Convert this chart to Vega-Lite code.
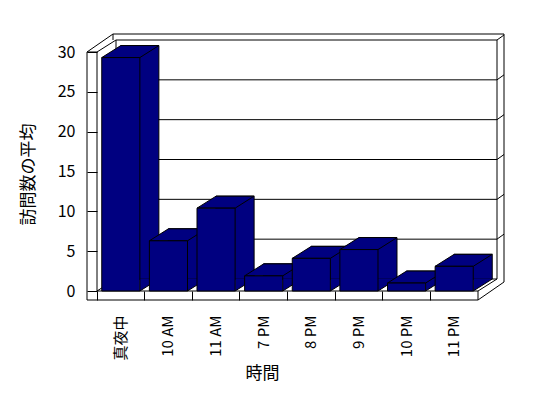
{
  "$schema": "https://vega.github.io/schema/vega-lite/v6.json",
  "width": 381,
  "height": 239,
  "autosize": "none",
  "padding": {"left": 97, "top": 52, "right": 70, "bottom": 107},
  "background": "white",
  "config": {"view": {"stroke": null},
    "axisY": {"domain": false, "grid": false, "tickSize": 10, "tickColor": "black",
              "labelPadding": 12, "labelFont": "Noto Sans CJK JP", "labelFontSize": 16, "labelColor": "black", "labelOverlap": false,
              "titleFont": "Noto Sans CJK JP", "titleFontSize": 17, "titleFontWeight": "normal", "titleColor": "black",
              "titleX": -69, "titleY": 122, "titleAngle": -90, "titleAlign": "center", "titleBaseline": "middle"}},
  "data": {"values": [
    {"t": "真夜中", "v": 29.3},
    {"t": "10 AM", "v": 6.3},
    {"t": "11 AM", "v": 10.4},
    {"t": "7 PM", "v": 1.9},
    {"t": "8 PM", "v": 4.1},
    {"t": "9 PM", "v": 5.2},
    {"t": "10 PM", "v": 1.0},
    {"t": "11 PM", "v": 3.1}
  ]},
  "layer": [
    {"data": {"values": [{}]},
     "mark": {"type": "rect", "fill": "white", "stroke": "black", "strokeWidth": 1, "xOffset": 19, "x2Offset": 19, "yOffset": -12, "y2Offset": -12},
     "encoding": {"x": {"value": 0}, "x2": {"value": "width"},
                  "y": {"datum": 30, "type": "quantitative", "scale": {"domain": [0, 30], "nice": false},
                        "axis": {"values": [0, 5, 10, 15, 20, 25, 30], "tickCount": 10, "title": "訪問数の平均", "labelOverlap": false}},
                  "y2": {"datum": 0}}},
    {"data": {"values": [{"g": 5}, {"g": 10}, {"g": 15}, {"g": 20}, {"g": 25}]},
     "mark": {"type": "rule", "stroke": "black", "strokeWidth": 1, "xOffset": 19, "x2Offset": 19, "yOffset": -12},
     "encoding": {"x": {"value": 0}, "x2": {"value": "width"}, "y": {"field": "g", "type": "quantitative"}}},
    {"data": {"values": [{"g": 5}, {"g": 10}, {"g": 15}, {"g": 20}, {"g": 25}, {"g": 30}]},
     "mark": {"type": "rule", "stroke": "black", "strokeWidth": 1, "xOffset": 19, "x2Offset": 26, "yOffset": -12, "y2Offset": -17},
     "encoding": {"x": {"value": "width"}, "x2": {"value": "width"}, "y": {"field": "g", "type": "quantitative"}, "y2": {"field": "g"}}},
    {"data": {"values": [{}]},
     "mark": {"type": "rule", "stroke": "black", "strokeWidth": 1, "xOffset": 16, "x2Offset": 26, "yOffset": -18},
     "encoding": {"x": {"value": 0}, "x2": {"value": "width"}, "y": {"datum": 30, "type": "quantitative"}}},
    {"data": {"values": [{}]},
     "mark": {"type": "rule", "stroke": "black", "strokeWidth": 1, "xOffset": 26, "yOffset": -18, "y2Offset": -9},
     "encoding": {"x": {"value": "width"}, "y": {"datum": 30, "type": "quantitative"}, "y2": {"datum": 0}}},
    {"data": {"values": [{}]},
     "mark": {"type": "rule", "stroke": "black", "strokeWidth": 1, "xOffset": 16, "yOffset": -18, "y2Offset": -12},
     "encoding": {"x": {"value": 0}, "y": {"datum": 30, "type": "quantitative"}, "y2": {"datum": 30}}},
    {"data": {"values": [{}]},
     "mark": {"type": "rule", "stroke": "black", "strokeWidth": 1, "xOffset": -10, "x2Offset": 16, "y2Offset": -18},
     "encoding": {"x": {"value": 0}, "x2": {"value": 0}, "y": {"datum": 30, "type": "quantitative"}, "y2": {"datum": 30}}},
    {"data": {"values": [{}]},
     "mark": {"type": "rule", "stroke": "black", "strokeWidth": 1, "x2Offset": 19, "y2Offset": -12},
     "encoding": {"x": {"value": 0}, "x2": {"value": 0}, "y": {"datum": 30, "type": "quantitative"}, "y2": {"datum": 30}}},
    {"data": {"values": [{}]},
     "mark": {"type": "rule", "stroke": "black", "strokeWidth": 1, "x2Offset": 19, "y2Offset": -12},
     "encoding": {"x": {"value": "width"}, "x2": {"value": "width"}, "y": {"datum": 0, "type": "quantitative"}, "y2": {"datum": 0}}},
    {"data": {"values": [{}]},
     "mark": {"type": "rule", "stroke": "black", "strokeWidth": 1, "x2Offset": 26, "yOffset": 9, "y2Offset": -9},
     "encoding": {"x": {"value": "width"}, "x2": {"value": "width"}, "y": {"datum": 0, "type": "quantitative"}, "y2": {"datum": 0}}},
    {"data": {"values": [{}]},
     "mark": {"type": "rule", "stroke": "black", "strokeWidth": 1, "x2Offset": 19, "y2Offset": -12},
     "encoding": {"x": {"value": 0}, "x2": {"value": 0}, "y": {"datum": 0, "type": "quantitative"}, "y2": {"datum": 0}}},
    {"data": {"values": [{}]},
     "mark": {"type": "rule", "stroke": "black", "strokeWidth": 1, "xOffset": -10, "y2Offset": 9},
     "encoding": {"x": {"value": 0}, "y": {"datum": 30, "type": "quantitative"}, "y2": {"datum": 0}}},
    {"data": {"values": [{}]},
     "mark": {"type": "rule", "stroke": "black", "strokeWidth": 1},
     "encoding": {"x": {"value": 0}, "y": {"datum": 30, "type": "quantitative"}, "y2": {"datum": 0}}},
    {"data": {"values": [{}]},
     "mark": {"type": "rule", "stroke": "black", "strokeWidth": 1, "xOffset": -10},
     "encoding": {"x": {"value": 0}, "x2": {"value": 0}, "y": {"datum": 30, "type": "quantitative"}}},
    {"data": {"values": [{}]},
     "mark": {"type": "rule", "stroke": "black", "strokeWidth": 1},
     "encoding": {"x": {"value": 0}, "x2": {"value": "width"}, "y": {"datum": 0, "type": "quantitative"}}},
    {"data": {"values": [{}]},
     "mark": {"type": "rule", "stroke": "black", "strokeWidth": 1, "xOffset": -10, "yOffset": 9},
     "encoding": {"x": {"value": 0}, "x2": {"value": "width"}, "y": {"datum": 0, "type": "quantitative"}}},
    {"data": {"values": [{}]},
     "mark": {"type": "rule", "stroke": "black", "strokeWidth": 1, "y2Offset": 9},
     "encoding": {"x": {"value": "width"}, "y": {"datum": 0, "type": "quantitative"}, "y2": {"datum": 0}}},
    {"mark": {"type": "bar", "fill": "#000080", "stroke": "black", "strokeWidth": 1, "xOffset": 19, "x2Offset": 19, "yOffset": -12, "y2Offset": -12},
     "encoding": {
       "x": {"field": "t", "type": "nominal", "sort": null,
             "scale": {"paddingInner": 0.2, "paddingOuter": 0.1},
             "axis": {"domain": false, "tickSize": 9, "tickColor": "black", "bandPosition": -0.125,
                      "labelAngle": -90, "labelAlign": "right", "labelBaseline": "middle", "labelPadding": 15,
                      "labelFont": "Noto Sans CJK JP", "labelFontSize": 15, "labelColor": "black", "labelOverlap": false,
                      "title": "時間", "titleFont": "Noto Sans CJK JP", "titleFontSize": 17, "titleFontWeight": "normal", "titleColor": "black",
                      "titleX": 165, "titleY": 82, "titleAlign": "center", "titleBaseline": "middle"}},
       "y": {"field": "v", "type": "quantitative",
             "scale": {"domain": [0, 30], "nice": false},
             "axis": {"values": [0, 5, 10, 15, 20, 25, 30], "tickCount": 10, "title": "訪問数の平均", "labelOverlap": false}}
     }},
    {"mark": {"type": "point", "shape": "M19.05,0L19.05,-12.5L38.05,-12.5L38.05,-12Z", "size": 4, "filled": true, "fill": "#000080", "strokeWidth": 0, "opacity": 1},
     "encoding": {"x": {"field": "t", "type": "nominal", "sort": null}, "y": {"datum": 0, "type": "quantitative"}}},
    {"mark": {"type": "point", "shape": "M19.05,0L38.05,-12", "size": 4, "filled": false, "stroke": "black", "strokeWidth": 1, "opacity": 1},
     "encoding": {"x": {"field": "t", "type": "nominal", "sort": null}, "y": {"datum": 0, "type": "quantitative"}}},
    {"mark": {"type": "point", "shape": "M-19.05,0L19.05,0L38.05,-12L0,-12Z", "size": 4, "filled": true, "fill": "#000080", "stroke": "black", "strokeWidth": 1, "opacity": 1},
     "encoding": {"x": {"field": "t", "type": "nominal", "sort": null}, "y": {"field": "v", "type": "quantitative"}}},
    {"mark": {"type": "bar", "fill": "#000080", "stroke": "black", "strokeWidth": 1},
     "encoding": {"x": {"field": "t", "type": "nominal", "sort": null}, "y": {"field": "v", "type": "quantitative"}}}
  ]
}
